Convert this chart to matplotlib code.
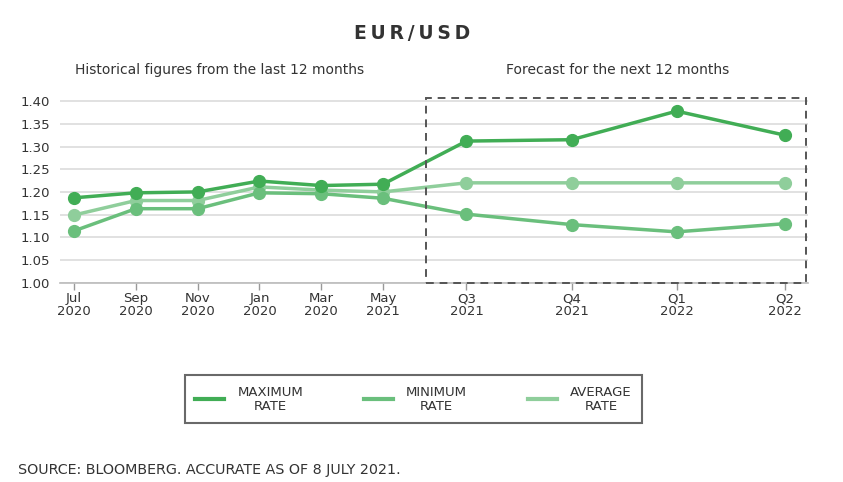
import matplotlib
matplotlib.use("Agg")
import matplotlib.pyplot as plt
from matplotlib.patches import Rectangle
from matplotlib.lines import Line2D

# data
labels = ["Jul\n2020", "Sep\n2020", "Nov\n2020", "Jan\n2020", "Mar\n2020", "May\n2021",
          "Q3\n2021", "Q4\n2021", "Q1\n2022", "Q2\n2022"]
# months after Jul 2020 (forecast quarters are spread wider in the original)
x_pos = [0, 2, 4, 6, 8, 10, 12.7, 16.1, 19.5, 23.0]
max_rate = [1.187, 1.198, 1.200, 1.224, 1.214, 1.217, 1.312, 1.315, 1.378, 1.325]
min_rate = [1.114, 1.163, 1.163, 1.198, 1.196, 1.186, 1.151, 1.128, 1.112, 1.130]
avg_rate = [1.149, 1.181, 1.181, 1.211, 1.204, 1.200, 1.220, 1.220, 1.220, 1.220]
yticks = [1.00, 1.05, 1.10, 1.15, 1.20, 1.25, 1.30, 1.35, 1.40]

c_max = "#41ad55"
c_min = "#6abf7c"
c_avg = "#8fce9b"
txt = "#333333"

plt.rcParams["font.family"] = ["DejaVu Sans"]

fig = plt.figure(figsize=(8.43, 4.82), dpi=100)
ax = fig.add_axes([0.0712, 0.4135, 0.8873, 0.3861])

ax.plot(x_pos, avg_rate, color=c_avg, lw=2.5, marker="o", ms=8.5, zorder=3, label="AVERAGE\nRATE")
ax.plot(x_pos, min_rate, color=c_min, lw=2.5, marker="o", ms=8.5, zorder=4, label="MINIMUM\nRATE")
ax.plot(x_pos, max_rate, color=c_max, lw=2.5, marker="o", ms=8.5, zorder=5, label="MAXIMUM\nRATE")

ax.set_xlim(-0.45, 23.75)
ax.set_ylim(1.0, 1.41)
ax.set_yticks(yticks)
ax.set_yticklabels([f"{v:.2f}" for v in yticks])
ax.set_xticks(x_pos)
ax.set_xticklabels(labels, linespacing=0.95)

ax.grid(axis="y", color="#dcdcdc", lw=1.2)
ax.set_axisbelow(True)
for s in ["top", "right", "left"]:
    ax.spines[s].set_visible(False)
ax.spines["bottom"].set_color("#bbbbbb")
ax.spines["bottom"].set_linewidth(1.2)
ax.tick_params(axis="y", length=0, pad=7, labelsize=9.5, labelcolor=txt)
ax.tick_params(axis="x", length=5, width=1, color="#999999", pad=2, labelsize=9.5, labelcolor=txt)

# forecast box
box = Rectangle((11.39, 1.0), 23.7 - 11.39, 1.407 - 1.0, fill=False, ls=(0, (4, 3)),
                lw=1.4, edgecolor="#555555", clip_on=False, zorder=6)
ax.add_patch(box)

fig.text(0.489, 0.931, "E\u2009U\u2009R\u2009/\u2009U\u2009S\u2009D", ha="center", va="center",
         fontsize=13.5, fontweight="bold", color=txt)
fig.text(0.261, 0.855, "Historical figures from the last 12 months", ha="center", va="center",
         fontsize=10, color=txt)
fig.text(0.733, 0.855, "Forecast for the next 12 months", ha="center", va="center",
         fontsize=10, color=txt)
fig.text(0.021, 0.025, "SOURCE: BLOOMBERG. ACCURATE AS OF 8 JULY 2021.", ha="left", va="center",
         fontsize=10.3, color=txt)

h, l = ax.get_legend_handles_labels()
order = [2, 1, 0]
handles = [Line2D([], [], color=h[i].get_color(), lw=3) for i in order]
leg = fig.legend(handles, [l[i] for i in order], loc="center", bbox_to_anchor=(0.4905, 0.172),
                 ncol=3, frameon=True, fancybox=False, fontsize=9.5, handlelength=2.2,
                 handletextpad=1.0, columnspacing=4.6, borderpad=0.8, borderaxespad=0)
leg.get_frame().set_edgecolor("#444444")
leg.get_frame().set_linewidth(1.5)
for t in leg.get_texts():
    t.set_multialignment("center")
    t.set_color(txt)
    t.set_linespacing(1.1)

fig.savefig("out.png", dpi=100)
